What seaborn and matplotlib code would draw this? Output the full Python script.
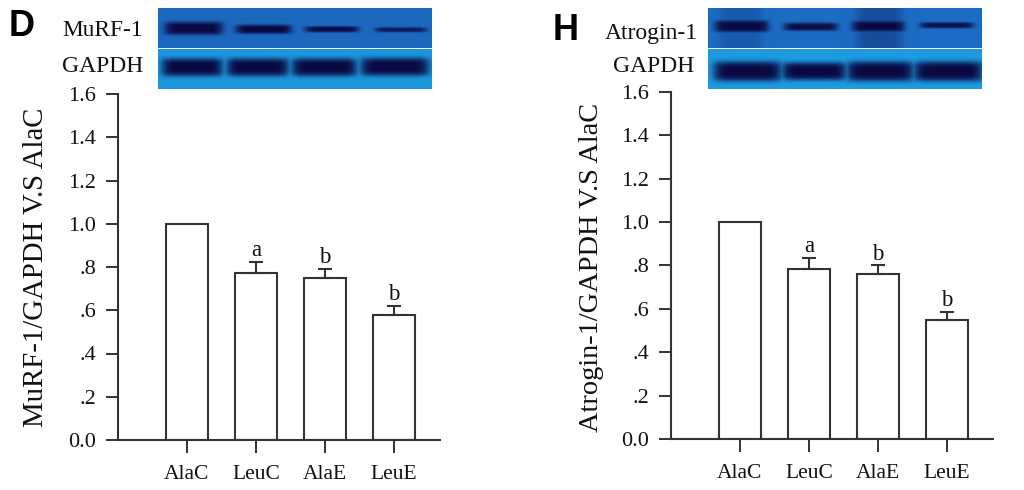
import numpy as np
import pandas as pd
import matplotlib
matplotlib.use("Agg")
import matplotlib.pyplot as plt
import seaborn as sns

groups = ["AlaC", "LeuC", "AlaE", "LeuE"]
murf_values = [1.0, 0.77, 0.75, 0.58]
murf_errors = [0, 0.055, 0.04, 0.04]
atrogin_values = [1.0, 0.785, 0.76, 0.55]
atrogin_errors = [0, 0.05, 0.04, 0.035]
letters = ["", "a", "b", "b"]
ytick_values = [0.0, 0.2, 0.4, 0.6, 0.8, 1.0, 1.2, 1.4, 1.6]
ytick_labels = ["0.0", ".2", ".4", ".6", ".8", "1.0", "1.2", "1.4", "1.6"]

sns.set_style("ticks")
plt.rcParams["font.family"] = ["Liberation Serif", "DejaVu Serif"]
W, H = 1024, 490
ink = "#333333"
fig = plt.figure(figsize=(W / 100, H / 100), dpi=100)


def px_axes(x0, y0, x1, y1):
    return fig.add_axes([x0 / W, 1 - y1 / H, (x1 - x0) / W, (y1 - y0) / H])


def blot(x0, x1, y0, y1, bg, bands, smears=()):
    # soft dark bands on a blue membrane, in picture pixels
    xx, yy = np.meshgrid(np.arange(x0, x1, 0.5), np.arange(y0, y1, 0.5))
    dark = np.zeros_like(xx)
    for a, b, c, h, s in bands:
        mid, half = (a + b) / 2, (b - a) / 2 * 1.06
        edge = np.exp(-(np.abs(xx - mid) / half) ** 8)
        dark = np.maximum(dark, s * edge * np.exp(-(np.abs(yy - c) / (h / 2)) ** 4))
    haze = np.zeros_like(xx)
    for a, b, s in smears:
        haze = np.maximum(haze, s * np.exp(-(np.abs(xx - (a + b) / 2) / ((b - a) / 2)) ** 6))
    img = np.zeros(xx.shape + (3,))
    band_col = np.array([10, 8, 65]) / 255
    base = np.array(bg) / 255
    for i in range(3):
        img[..., i] = base[i] + (band_col[i] - base[i]) * np.maximum(dark, haze)
    ax = px_axes(x0, y0, x1, y1)
    ax.imshow(img, aspect="auto", interpolation="bilinear")
    ax.axis("off")


def panel(x0, y_top, x1, y_zero, values, errors, ylabel, label_x, label_y, label_size):
    ax = px_axes(x0, y_top, x1, y_zero)
    df = pd.DataFrame({"group": groups, "value": values})
    sns.barplot(data=df, x="group", y="value", order=groups, color="white",
                edgecolor=ink, linewidth=1.5, width=0.61, saturation=1, ax=ax)
    shown = [i for i, e in enumerate(errors) if e > 0]
    ax.errorbar(shown, [values[i] for i in shown],
                yerr=[[0] * len(shown), [errors[i] for i in shown]],
                fmt="none", ecolor=ink, elinewidth=1.5, capsize=5, capthick=1.5)
    for i, t in enumerate(letters):
        if t:
            ax.text(i, values[i] + errors[i] + 0.004, t, ha="center", va="bottom",
                    fontsize=16.5, color="#111111")
    ax.set_xlim(-1, 3.67)
    ax.set_ylim(0, 1.6)
    ax.set_yticks(ytick_values, ytick_labels)
    ax.set_xlabel("")
    ax.set_ylabel("")
    ax.tick_params(axis="y", length=9, width=1.4, color=ink, labelsize=16,
                   labelcolor="#111111", pad=7)
    ax.tick_params(axis="x", length=9, width=1.4, color=ink, labelsize=15.5,
                   labelcolor="#111111", pad=9)
    for s in ["left", "bottom"]:
        ax.spines[s].set_linewidth(1.5)
        ax.spines[s].set_color(ink)
    sns.despine(ax=ax)
    fig.text(label_x / W, 1 - label_y / H, ylabel, rotation=90, ha="center", va="center",
             fontsize=label_size, color="#111111")


panel(118, 94, 440, 440, murf_values, murf_errors, "MuRF-1/GAPDH V.S AlaC", 36, 267, 20.7)
panel(671, 92, 993, 439, atrogin_values, atrogin_errors, "Atrogin-1/GAPDH V.S AlaC", 591, 267, 20.4)

blot(158, 432, 8, 48, (28, 104, 190),
     [(166, 221, 28, 13, 1), (237, 290, 29, 9, 1), (306, 357, 29, 6, 0.95), (376, 425, 29.5, 5, 0.8)])
blot(158, 432, 49, 89, (28, 150, 220),
     [(163, 221, 67, 18, 1), (228, 287, 67, 18, 1), (293, 355, 67, 18, 1), (362, 427, 66.5, 18, 1)])
blot(708, 982, 8, 48, (28, 108, 195),
     [(716, 767, 26, 12, 1), (785, 836, 26.5, 8, 0.95), (853, 903, 26, 11, 1), (921, 972, 25, 6, 0.9)],
     smears=[(719, 762, 0.18), (856, 902, 0.32)])
blot(708, 982, 49, 89, (30, 155, 225),
     [(715, 780, 71, 20, 1), (783, 845, 71, 18, 1), (848, 912, 71, 20, 1), (915, 981, 71, 20, 1)])

fig.text(62 / W, 1 - 31 / H, "MuRF-1", fontsize=16.8, va="center", color="#111111")
fig.text(62 / W, 1 - 67 / H, "GAPDH", fontsize=17, va="center", color="#111111")
fig.text(605 / W, 1 - 34 / H, "Atrogin-1", fontsize=17, va="center", color="#111111")
fig.text(613 / W, 1 - 67 / H, "GAPDH", fontsize=17, va="center", color="#111111")
fig.text(9 / W, 1 - 27 / H, "D", fontsize=26, fontweight="bold", family="Liberation Sans",
         va="center", color="black")
fig.text(553 / W, 1 - 30 / H, "H", fontsize=26, fontweight="bold", family="Liberation Sans",
         va="center", color="black")

fig.savefig("out.png", dpi=100, facecolor="white")
